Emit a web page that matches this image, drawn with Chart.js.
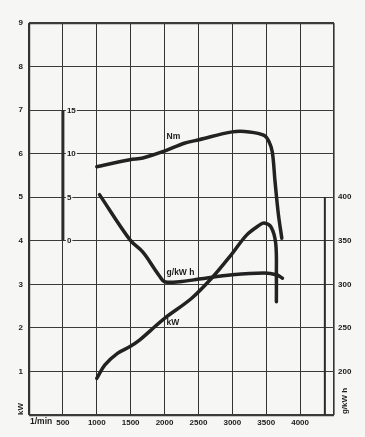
<!DOCTYPE html>
<html lang="de">
<head>
    <meta charset="utf-8"/>
    <title>Motorkennlinien</title>
    <script src="https://cdn.jsdelivr.net/npm/chart.js"></script>
    <style>
        html, body { margin: 0; padding: 0; background: #f6f6f4; }
        #wrap { width: 365px; height: 437px; }
    </style>
</head>
<body>
<div id="wrap"><canvas id="myChart" width="365" height="437"></canvas></div>
<script>
    // values
    const kwRpm = [1000, 1120, 1310, 1490, 1630, 1800, 2000, 2400, 2700, 3000, 3210, 3400, 3470, 3570, 3640, 3650, 3650];
    const kwVals = [0.84, 1.15, 1.42, 1.57, 1.72, 1.95, 2.22, 2.68, 3.15, 3.71, 4.13, 4.36, 4.41, 4.32, 3.94, 3.17, 2.60];

    const nmRpm = [1000, 1490, 1680, 2000, 2290, 2510, 3000, 3250, 3470, 3540, 3590, 3630, 3680, 3730];
    const nmVals = [8.5, 9.3, 9.5, 10.3, 11.2, 11.6, 12.5, 12.5, 12.1, 11.4, 10.2, 6.8, 3.0, 0.3];

    const gRpm = [1040, 1490, 1680, 1850, 1930, 2000, 2220, 2510, 3000, 3470, 3650, 3740];
    const gVals = [403, 351, 337, 318, 309, 303, 303, 306, 311, 313, 311, 307];

    const rpmTicks = [500, 1000, 1500, 2000, 2500, 3000, 3500, 4000];
    const nmTicks = [0, 5, 10, 15];
    const gTicks = [200, 250, 300, 350, 400];

    const ink = '#1c1c1c';
    const pairs = (xs, ys) => xs.map((x, i) => ({x: x, y: ys[i]}));

    // axis bars and curve labels drawn through the scales
    const extras = {
        id: 'extras',
        beforeDatasetsDraw(chart) {
            const ctx = chart.ctx, s = chart.scales;
            ctx.save();
            // Nm bar
            ctx.strokeStyle = '#2a2a2a';
            ctx.lineWidth = 3;
            ctx.beginPath();
            ctx.moveTo(s.x.getPixelForValue(500), s.nm.getPixelForValue(15));
            ctx.lineTo(s.x.getPixelForValue(500), s.nm.getPixelForValue(0));
            ctx.stroke();
            // g/kWh bar
            ctx.lineWidth = 2;
            ctx.beginPath();
            ctx.moveTo(s.x.getPixelForValue(4365), s.g.getPixelForValue(400));
            ctx.lineTo(s.x.getPixelForValue(4365), s.g.getPixelForValue(150));
            ctx.stroke();
            ctx.font = 'bold 8px "Liberation Sans", Arial, sans-serif';
            ctx.textBaseline = 'middle';
            ctx.textAlign = 'left';
            nmTicks.forEach(v => {
                const px = s.x.getPixelForValue(500) + 2, py = s.nm.getPixelForValue(v);
                const w = ctx.measureText(String(v)).width;
                ctx.fillStyle = '#f6f6f4';
                ctx.fillRect(px + 1, py - 4, w + 2, 8);
                ctx.fillStyle = ink;
                ctx.fillText(String(v), px + 2, py + 0.5);
            });
            ctx.restore();
        },
        afterDraw(chart) {
            const ctx = chart.ctx, s = chart.scales, a = chart.chartArea;
            ctx.save();
            ctx.fillStyle = ink;
            ctx.font = 'bold 8.5px "Liberation Sans", Arial, sans-serif';
            ctx.textBaseline = 'middle';
            ctx.textAlign = 'left';
            ctx.fillText('Nm', s.x.getPixelForValue(2030), s.nm.getPixelForValue(11.9));
            ctx.fillText('g/kW h', s.x.getPixelForValue(2030), s.g.getPixelForValue(313));
            ctx.fillText('kW', s.x.getPixelForValue(2030), s.y.getPixelForValue(2.11));
            ctx.fillText('1/min', a.left + 1, a.bottom + 7);
            // rotated axis titles
            ctx.font = 'bold 8px "Liberation Sans", Arial, sans-serif';
            ctx.textAlign = 'center';
            ctx.save();
            ctx.translate(a.left - 8, a.bottom - 6);
            ctx.rotate(-Math.PI / 2);
            ctx.fillText('kW', 0, 0);
            ctx.restore();
            ctx.save();
            ctx.translate(a.right + 11, a.bottom - 14);
            ctx.rotate(-Math.PI / 2);
            ctx.fillText('g/kW h', 0, 0);
            ctx.restore();
            ctx.restore();
        }
    };

    const lineStyle = {
        borderColor: '#222',
        borderWidth: 3.5,
        pointRadius: 0,
        tension: 0.35,
        borderCapStyle: 'round',
        borderJoinStyle: 'round',
        fill: false
    };

    const tickFont = {family: '"Liberation Sans", Arial, sans-serif', size: 8, weight: 'bold'};

    new Chart(document.getElementById('myChart'), {
        type: 'line',
        data: {
            datasets: [
                Object.assign({label: 'kW', data: pairs(kwRpm, kwVals), yAxisID: 'y'}, lineStyle),
                Object.assign({label: 'Nm', data: pairs(nmRpm, nmVals), yAxisID: 'nm'}, lineStyle),
                Object.assign({label: 'g/kW h', data: pairs(gRpm, gVals), yAxisID: 'g'}, lineStyle)
            ]
        },
        options: {
            responsive: false,
            animation: false,
            layout: {padding: {top: 23, left: 0, right: 0, bottom: 0}},
            plugins: {legend: {display: false}, tooltip: {enabled: false}},
            scales: {
                x: {
                    type: 'linear', min: 0, max: 4500,
                    afterFit: s => { s.height = 22; },
                    ticks: {
                        stepSize: 500, padding: 3, color: ink, font: tickFont, maxRotation: 0,
                        callback: v => rpmTicks.includes(v) ? String(v) : ''
                    },
                    border: {display: false},
                    grid: {
                        drawTicks: false, color: '#333',
                        lineWidth: c => c.tick && c.tick.value === 0 ? 2.2 : (c.tick && c.tick.value === 4500 ? 1.6 : 1)
                    }
                },
                y: {
                    position: 'left', min: 0, max: 9,
                    afterFit: s => { s.width = 29; },
                    ticks: {
                        stepSize: 1, padding: 6, color: ink, font: tickFont,
                        callback: v => v === 0 ? '' : String(v)
                    },
                    border: {display: false},
                    grid: {
                        drawTicks: false, color: '#3a3a3a',
                        lineWidth: c => c.tick && (c.tick.value === 0 || c.tick.value === 9) ? 2.2 : 1
                    }
                },
                g: {
                    position: 'right', min: 150, max: 600,
                    afterFit: s => { s.width = 31; },
                    ticks: {
                        stepSize: 50, padding: 4, color: ink, font: tickFont,
                        callback: v => gTicks.includes(v) ? String(v) : ''
                    },
                    border: {display: false},
                    grid: {display: false, drawTicks: false}
                },
                nm: {
                    display: false, min: -20, max: 25
                }
            }
        },
        plugins: [extras]
    });
</script>
</body>
</html>
